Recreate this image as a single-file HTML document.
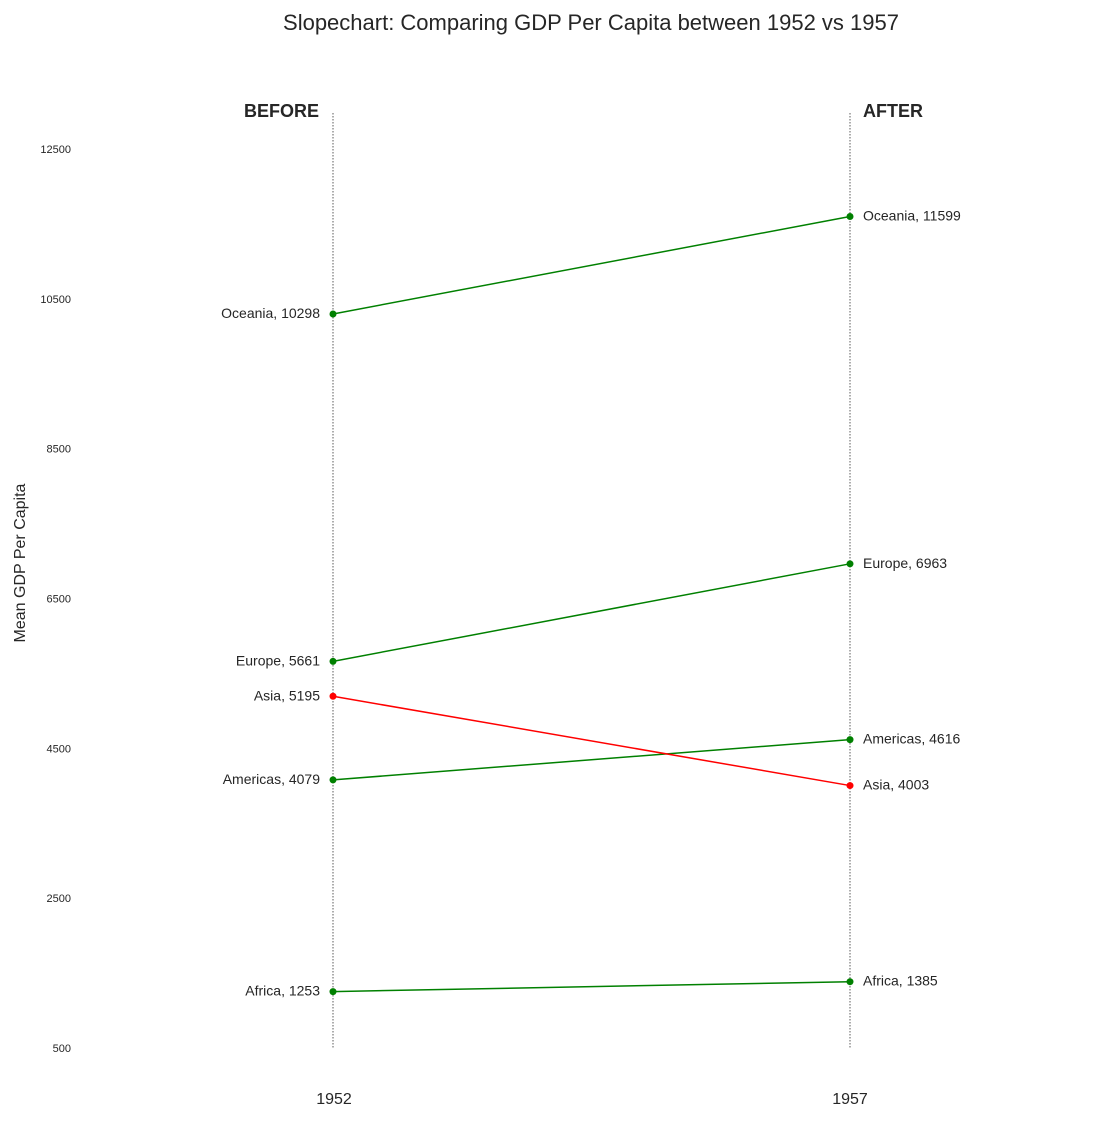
<!DOCTYPE html>
<html><head><meta charset="utf-8"><style>
body{margin:0;background:#fff;}
svg{font-family:"Liberation Sans",sans-serif;}
</style></head><body>
<svg id="chart" width="1120" height="1120" xmlns="http://www.w3.org/2000/svg">
<rect width="1120" height="1120" fill="#fff"/>
<text x="591" y="30" font-size="22" text-anchor="middle" fill="#262626">Slopechart: Comparing GDP Per Capita between 1952 vs 1957</text>
<text transform="translate(25,563) rotate(-90)" font-size="16" text-anchor="middle" fill="#262626">Mean GDP Per Capita</text>
<g id="yticks"></g>
<line x1="333" y1="113" x2="333" y2="1049" stroke="#333" stroke-width="0.8" stroke-dasharray="1.5,1.5"/>
<line x1="850" y1="113" x2="850" y2="1049" stroke="#333" stroke-width="0.8" stroke-dasharray="1.5,1.5"/>
<text x="319" y="117" font-size="18" font-weight="bold" text-anchor="end" fill="#262626">BEFORE</text>
<text x="863" y="117" font-size="18" font-weight="bold" fill="#262626">AFTER</text>
<text x="334" y="1104" font-size="16" text-anchor="middle" fill="#262626">1952</text>
<text x="850" y="1104" font-size="16" text-anchor="middle" fill="#262626">1957</text>
<g id="marks"></g>
</svg>
<script>
const continents=["Africa","Americas","Asia","Europe","Oceania"];
const gdp1952=[1253,4079,5195,5661,10298];
const gdp1957=[1385,4616,4003,6963,11599];
const yTicks=[500,2500,4500,6500,8500,10500,12500];
const NS="http://www.w3.org/2000/svg";
function y(v){return 1048-(v-500)*(899/12000);}
const x1=333,x2=850;
function el(t,a){const e=document.createElementNS(NS,t);for(const k in a)e.setAttribute(k,a[k]);return e;}
const yt=document.getElementById('yticks');
yTicks.forEach(v=>{const t=el('text',{x:71,y:y(v)+4,'font-size':11,'text-anchor':'end',fill:'#262626'});


t.textContent=v;yt.appendChild(t);});
const g=document.getElementById('marks');
continents.forEach((c,i)=>{
const a=gdp1952[i],b=gdp1957[i];const col=a>b?'red':'green';
const l=el('line',{x1:x1,y1:y(a),x2:x2,y2:y(b),stroke:col,'stroke-width':1.5});


g.appendChild(l);
[[x1,a],[x2,b]].forEach(([px,v],j)=>{
const d=el('circle',{cx:px,cy:y(v),r:3.5,fill:col});


g.appendChild(d);
const t=el('text',{x:j?px+13:px-13,y:y(v)+4,'font-size':14,'text-anchor':j?'start':'end',fill:'#262626'});


t.textContent=c+', '+v;g.appendChild(t);});
});
</script>
</body></html>
